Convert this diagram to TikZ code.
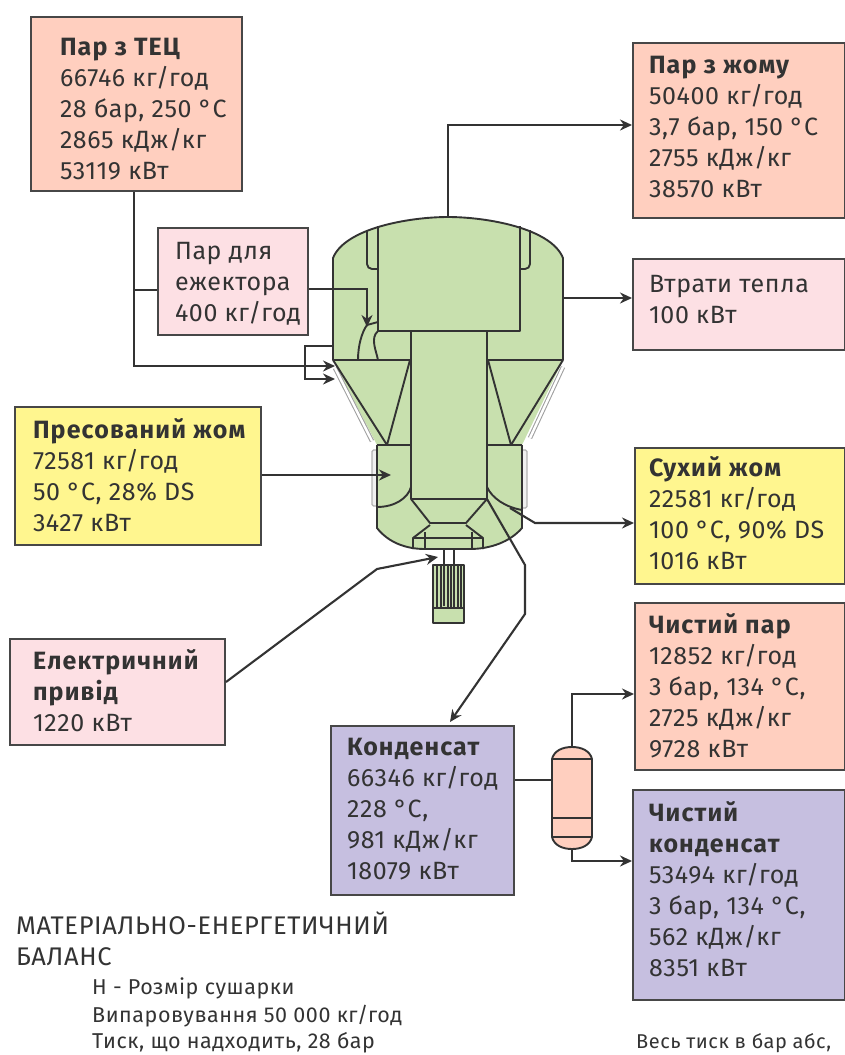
\documentclass[tikz,border=0pt]{standalone}
\usepackage{fontspec}
\setmainfont{Fira Sans}[LetterSpace=2.5,BoldFeatures={LetterSpace=4.5}]
\usetikzlibrary{arrows.meta}
\definecolor{salm}{HTML}{FFCFBF}
\definecolor{pinkb}{HTML}{FDE0E4}
\definecolor{yelb}{HTML}{FFF68F}
\definecolor{purb}{HTML}{C6BFE0}
\definecolor{greenb}{HTML}{C8E0AE}
\definecolor{ink}{HTML}{333333}
\tikzset{
  box/.style={draw=ink!90,line width=2pt,inner sep=0pt,anchor=north west,font=\fontsize{25}{31}\selectfont,text=ink},
  conn/.style={draw=ink,line width=2.1pt},
  arr/.style={conn,-{Stealth[length=12pt,width=11pt]}},
  vess/.style={draw=ink,line width=1.9pt,line join=round},
  thin/.style={draw=ink,line width=1.1pt},
  shell/.style={draw=gray!75,line width=4.5pt},
  shellin/.style={draw=white,line width=2.4pt},
  note/.style={anchor=base west,inner sep=0pt,text=ink},
}
\newcommand{\bx}[9]{% name x1 y1 x2 y2 fill leftpad toppad text
  \pgfmathsetlengthmacro{\bw}{#4-#2}\pgfmathsetlengthmacro{\bh}{#5-#3}
  \node[box,fill=#6] (#1) at (#2,#3) {\parbox[c][\bh][t]{\bw}{\leftskip=#7pt\relax\rightskip=0pt plus 1fil\parindent=0pt\vspace*{#8pt}#9\par}};}
\begin{document}
\begin{tikzpicture}[x=1pt,y=-1pt]
\useasboundingbox (0,0) rectangle (844,1055);
\bx{tec}{30}{16}{241}{190}{salm}{29}{21}{\textbf{Пар з ТЕЦ}\\66746 кг/год\\28 бар, 250 °C\\2865 кДж/кг\\53119 кВт}
\bx{zhom}{632}{42}{844}{217}{salm}{16}{13}{\textbf{Пар з жому}\\50400 кг/год\\3,7 бар, 150 °C\\2755 кДж/кг\\38570 кВт}
\bx{ej}{157}{227}{307}{334}{pinkb}{17}{14}{Пар для\\ежектора\\400 кг/год}
\bx{loss}{632}{258}{844}{349}{pinkb}{16}{16}{Втрати тепла\\100 кВт}
\bx{press}{14}{406}{260}{544}{yelb}{18}{11}{\textbf{Пресований жом}\\72581 кг/год\\50 °C, 28\% DS\\3427 кВт}
\bx{dry}{634}{447}{844}{583}{yelb}{14}{8}{\textbf{Сухий жом}\\22581 кг/год\\100 °C, 90\% DS\\1016 кВт}
\bx{drive}{9}{638}{224}{744}{pinkb}{23}{10}{\textbf{Електричний}\\\textbf{привід}\\1220 кВт}
\bx{clean}{634}{602}{844}{769}{salm}{14}{10}{\textbf{Чистий пар}\\12852 кг/год\\3 бар, 134 °C,\\2725 кДж/кг\\9728 кВт}
\bx{cond}{330}{725}{513}{894}{purb}{16}{12}{\textbf{Конденсат}\\66346 кг/год\\228 °C,\\981 кДж/кг\\18079 кВт}
\bx{ccond}{632}{789}{844}{999}{purb}{16}{11}{\textbf{Чистий}\\\textbf{конденсат}\\53494 кг/год\\3 бар, 134 °C,\\562 кДж/кг\\8351 кВт}

% vessel
\draw[draw=gray!60,fill=gray!12,line width=1.2pt,rounded corners=1.5pt] (372,450) rectangle (378,506);
\draw[draw=gray!60,fill=gray!12,line width=1.2pt,rounded corners=1.5pt] (521,450) rectangle (527,508);
\draw[draw=none,fill=greenb] (333,360) -- (333,258) .. controls (345,228) and (410,217) .. (448,217)
  .. controls (486,217) and (551,228) .. (563,258) -- (563,360) -- (522,445) -- (522,528)
  .. controls (510,542) and (490,549) .. (470,549) -- (425,549) .. controls (405,549) and (388,542) .. (377,528) -- (377,445) -- cycle;
\draw[vess] (333,360) -- (333,258) .. controls (345,228) and (410,217) .. (448,217)
  .. controls (486,217) and (551,228) .. (563,258) -- (563,360);
\draw[vess] (522,445) -- (522,528)
  .. controls (510,542) and (490,549) .. (470,549) -- (425,549) .. controls (405,549) and (388,542) .. (377,528) -- (377,445);
\draw[shell] (335,368) -- (372,441); \draw[shellin] (335,368) -- (372,441);
\draw[shell] (563,367) -- (530,438); \draw[shellin] (563,367) -- (530,438);
\draw[vess] (378,226) -- (378,331) -- (520,331) -- (520,226);
\draw[vess] (367,230) -- (367,264) arc[start angle=180,end angle=90,radius=5] -- (378,269);
\draw[vess] (530,230) -- (530,264) arc[start angle=0,end angle=90,radius=5] -- (520,269);
\draw[vess] (411,331) -- (411,499) -- (487,499) -- (487,331);
\draw[vess] (333,360) -- (411,360); \draw[vess] (487,360) -- (563,360);
\draw[vess] (333,360) -- (387,445) -- (410,360);
\draw[vess] (563,360) -- (511,445) -- (488,360);
\draw[vess] (377,445) -- (411,445); \draw[vess] (487,445) -- (522,445);
\draw[vess] (411,487) .. controls (408,498) and (395,507) .. (377,507);
\draw[vess] (487,487) .. controls (492,498) and (505,507) .. (522,510);
\draw[vess] (411,499) -- (430,523) -- (466,523) -- (487,499);
\draw[vess] (430,525) -- (413,538) -- (413,549); \draw[vess] (466,525) -- (483,538) -- (483,549);
\draw[vess] (413,538) -- (483,538);
\draw[vess] (425,532) -- (425,549); \draw[vess] (472,532) -- (472,549);
% ejector nozzle
\draw[vess] (358,360) .. controls (358,345) and (362,332) .. (367,325) -- (378,322);
\draw[vess] (378,360) .. controls (376,350) and (370,338) .. (378,331);
% motor
\draw[vess,fill=greenb] (433,565) rectangle (464,623);
\draw[vess] (433,608) -- (464,608);
\foreach \fx in {437,441,448,451,458,461} \draw[thin] (\fx,565) -- (\fx,608);
\draw[vess] (444,549) -- (444,606); \draw[vess] (454,549) -- (454,608);
% separator
\draw[vess,fill=salm] (552,759) .. controls (554,751) and (562,747) .. (572,747) .. controls (582,747) and (590,751) .. (592,759)
  -- (592,837) .. controls (590,845) and (582,849) .. (572,849) .. controls (562,849) and (554,845) .. (552,837) -- cycle;
\draw[vess] (552,759) -- (592,759); \draw[vess] (552,818) -- (592,818); \draw[vess] (552,837) -- (592,837);
\coordinate (septop) at (572,747); \coordinate (sepbot) at (572,849); \coordinate (sepleft) at (552,780);
\coordinate (topout) at (448,217); \coordinate (lossin) at (563,298); \coordinate (steamin) at (335,366);
\coordinate (branch) at (134,290); \coordinate (ejtip) at (367,327); \coordinate (pulpin) at (391,475);
\coordinate (drytap) at (510,508); \coordinate (condtap) at (487,499); \coordinate (shafttip) at (438,557);
\coordinate (loopa) at (333,346); \coordinate (loopb) at (335,379);
% connectors
\draw[arr] (topout) |- (zhom.west |- 0,125);
\draw[arr] (lossin) -- (loss.west |- lossin);
\draw[arr] (tec.south -| branch) |- (steamin);
\draw[conn] (branch) -- (ej.west |- branch);
\draw[arr] (ej.east |- 0,289) -| (ejtip);
\draw[arr] (loopa) -| (305,379) -- (loopb);
\draw[arr] (press.east |- pulpin) -- (pulpin);
\draw[arr] (drytap) -- (535,523) -- (dry.west |- 0,523);
\draw[arr] (drive.east |- 0,682) -- (377,569) -- (shafttip);
\draw[arr] (condtap) -- (525,565) -- (525,614) -- (450,722);
\draw[conn] (cond.east |- sepleft) -- (sepleft);
\draw[arr] (septop) |- (clean.west |- 0,694);
\draw[arr] (sepbot) |- (ccond.west |- 0,861);
% notes
\node[note,font=\fontsize{25.5}{26}\selectfont] (t1) at (16,934) {МАТЕРІАЛЬНО-ЕНЕРГЕТИЧНИЙ};
\node[note,font=\fontsize{25.5}{26}\selectfont] (t2) at (16,965) {БАЛАНС};
\node[note,font=\fontsize{21.5}{22}\selectfont] (t3) at (92,994) {Н - Розмір сушарки};
\node[note,font=\fontsize{21.5}{22}\selectfont] (t4) at (92,1022) {Випаровування 50 000 кг/год};
\node[note,font=\fontsize{21.5}{22}\selectfont] (t5) at (92,1048.5) {Тиск, що надходить, 28 бар};
\node[note,font=\fontsize{20}{22}\selectfont] (t6) at (636,1048.5) {Весь тиск в бар абс,};
\end{tikzpicture}
\end{document}
